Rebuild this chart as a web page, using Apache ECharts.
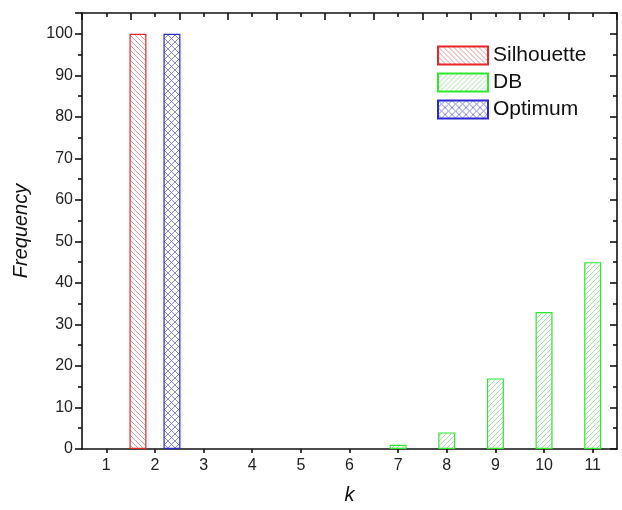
<!DOCTYPE html>
<html>
<head>
<meta charset="utf-8">
<script src="https://cdn.jsdelivr.net/npm/echarts@6/dist/echarts.min.js"></script>
<style>
  html, body { margin: 0; padding: 0; background: #fff; }
  #chart { width: 622px; height: 510px; }
</style>
</head>
<body>
<div id="chart"></div>
<script>
// data
const kLabels = ['1', '2', '3', '4', '5', '6', '7', '8', '9', '10', '11'];
const silhouette = [0, 100, 0, 0, 0, 0, 0, 0, 0, 0, 0];
const db = [0, 0, 0, 0, 0, 0, 1, 4, 17, 33, 45];
const optimum = [0, 100, 0, 0, 0, 0, 0, 0, 0, 0, 0];

// zero counts draw no bar at all
const noZero = arr => arr.map(v => (v === 0 ? null : v));

// hatch fills drawn on a small tile
function hatch(lineColor, size, dirs) {
    const c = document.createElement('canvas');
    c.width = size;
    c.height = size;
    const ctx = c.getContext('2d');
    ctx.fillStyle = '#fff';
    ctx.fillRect(0, 0, size, size);
    ctx.strokeStyle = lineColor;
    ctx.lineWidth = 0.8;
    dirs.forEach(d => {
        ctx.beginPath();
        if (d === '\\') {
            ctx.moveTo(-1, -1); ctx.lineTo(size + 1, size + 1);
            ctx.moveTo(-1, size - 1); ctx.lineTo(1, size + 1);
            ctx.moveTo(size - 1, -1); ctx.lineTo(size + 1, 1);
        } else {
            ctx.moveTo(-1, size + 1); ctx.lineTo(size + 1, -1);
            ctx.moveTo(-1, 1); ctx.lineTo(1, -1);
            ctx.moveTo(size - 1, size + 1); ctx.lineTo(size + 1, size - 1);
        }
        ctx.stroke();
    });
    return { image: c, repeat: 'repeat' };
}

const font = '"Liberation Sans", Arial, sans-serif';
const black = '#111';

const chart = echarts.init(document.getElementById('chart'));
const option = {
    backgroundColor: '#fff',
    animation: false,
    grid: { left: 82, right: 5, top: 13, bottom: 60 },
    legend: {
        orient: 'vertical',
        left: 432,
        top: 40,
        itemWidth: 50,
        itemHeight: 18,
        itemGap: 6,
        icon: 'rect',
        textStyle: { fontFamily: font, fontSize: 21, color: black },
        data: ['Silhouette', 'DB', 'Optimum']
    },
    xAxis: [
        {
            type: 'category',
            position: 'bottom',
            data: kLabels,
            name: 'k',
            nameLocation: 'middle',
            nameGap: 36,
            nameTextStyle: { fontFamily: font, fontSize: 20, fontStyle: 'italic', color: black },
            axisLine: { lineStyle: { color: black, width: 1.6 } },
            axisTick: { length: 7, lineStyle: { color: black, width: 1.6 } },
            axisLabel: { fontFamily: font, fontSize: 16, color: '#222', margin: 9 },
            splitLine: { show: false }
        },
        {
            type: 'value',
            position: 'bottom',
            min: 0.5,
            max: 11.5,
            interval: 1,
            axisLine: { show: false },
            axisTick: { show: false },
            axisLabel: { show: false },
            minorTick: { show: true, splitNumber: 2, length: 4, lineStyle: { color: black, width: 1.6 } },
            splitLine: { show: false }
        },
        {
            type: 'value',
            position: 'top',
            min: 0.5,
            max: 11.5,
            interval: 1,
            axisLine: { show: true, lineStyle: { color: black, width: 1.6 } },
            axisTick: { show: true, inside: true, length: 7, lineStyle: { color: black, width: 1.6 } },
            axisLabel: { show: false },
            minorTick: { show: true, splitNumber: 2, length: 4, lineStyle: { color: black, width: 1.6 } },
            splitLine: { show: false }
        }
    ],
    yAxis: [
        {
            type: 'value',
            min: 0,
            max: 105,
            interval: 10,
            name: 'Frequency',
            nameLocation: 'middle',
            nameGap: 51,
            nameTextStyle: { fontFamily: font, fontSize: 20, fontStyle: 'italic', color: black },
            axisLine: { show: true, lineStyle: { color: black, width: 1.6 } },
            axisTick: { show: true, length: 7, lineStyle: { color: black, width: 1.6 } },
            minorTick: { show: true, splitNumber: 2, length: 4, lineStyle: { color: black, width: 1.6 } },
            axisLabel: { fontFamily: font, fontSize: 16, color: '#222', margin: 9, showMaxLabel: false },
            splitLine: { show: false }
        },
        {
            type: 'value',
            position: 'right',
            min: 0,
            max: 105,
            interval: 10,
            axisLine: { show: true, lineStyle: { color: black, width: 1.6 } },
            axisTick: { show: true, inside: true, length: 7, lineStyle: { color: black, width: 1.6 } },
            minorTick: { show: true, splitNumber: 2, length: 4, lineStyle: { color: black, width: 1.6 } },
            axisLabel: { show: false },
            splitLine: { show: false }
        }
    ],
    series: [
        {
            name: 'Silhouette',
            type: 'bar',
            data: noZero(silhouette),
            barWidth: 17,
            barGap: '0%',
            itemStyle: { color: hatch('#e08080', 5, ['\\']), borderColor: '#e8262a', borderWidth: 1.2 }
        },
        {
            name: 'DB',
            type: 'bar',
            data: noZero(db),
            barWidth: 17,
            barGap: '0%',
            itemStyle: { color: hatch('#8ee08e', 5, ['/']), borderColor: '#2ee82e', borderWidth: 1.2 }
        },
        {
            name: 'Optimum',
            type: 'bar',
            data: noZero(optimum),
            barWidth: 17,
            barGap: '0%',
            itemStyle: { color: hatch('#6a6ad8', 7, ['/', '\\']), borderColor: '#2a2ad0', borderWidth: 1.2 }
        }
    ]
};
chart.setOption(option);
</script>
</body>
</html>
